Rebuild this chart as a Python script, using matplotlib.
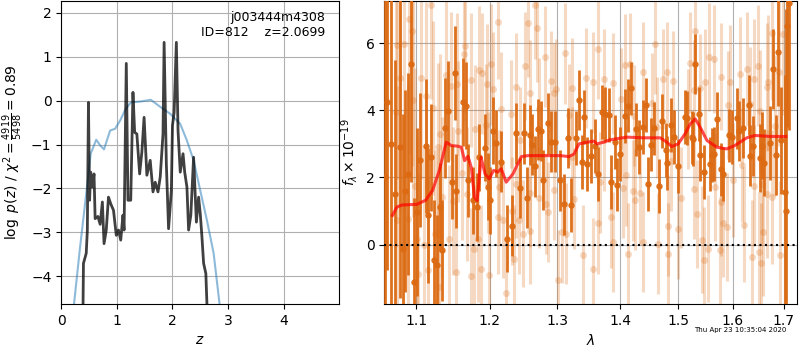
import numpy as np
import matplotlib
matplotlib.use("Agg")
import matplotlib.pyplot as plt
from matplotlib.ticker import NullLocator, NullFormatter

# p(z) curves (left panel)
z_grid = [0.39, 0.40, 0.45, 0.47, 0.49, 0.51, 0.53, 0.56, 0.59, 0.61, 0.66, 0.70,
          0.74, 0.77, 0.81, 0.85, 0.89, 0.94, 0.99, 1.03, 1.07, 1.11, 1.13, 1.17,
          1.20, 1.25, 1.29, 1.32, 1.36, 1.41, 1.45, 1.49, 1.54, 1.60, 1.65, 1.69,
          1.74, 1.78, 1.83, 1.85, 1.89, 1.93, 1.98, 2.00, 2.03, 2.07, 2.10, 2.14,
          2.19, 2.22, 2.26, 2.29, 2.33, 2.38, 2.43, 2.47, 2.50, 2.53, 2.56, 2.60,
          2.63]
logpz = [-5.0, -3.71, -3.48, -2.95, -0.04, -2.27, -1.63, -1.97, -1.67, -2.69,
         -2.64, -2.82, -2.31, -3.26, -2.95, -2.20, -2.35, -2.50, -3.07, -2.95,
         -3.18, -2.61, -2.95, 0.85, -2.27, -2.27, 0.19, -0.72, -0.76, -1.67,
         -1.17, -0.38, -1.70, -1.36, -2.08, -1.86, -2.08, -1.74, -0.76, 1.33,
         -1.44, -2.92, -2.05, -0.57, -0.27, 1.33, -0.68, -1.63, -1.21, -1.63,
         -1.97, -2.95, -2.61, -1.29, -2.77, -2.20, -2.58, -3.11, -3.71, -3.94,
         -5.0]

z_prior = [0.20, 0.34, 0.45, 0.53, 0.63, 0.70, 0.77, 0.83, 0.88, 0.97, 1.06,
           1.15, 1.25, 1.42, 1.61, 1.78, 1.96, 2.14, 2.26, 2.38, 2.50, 2.62,
           2.74, 2.88]
logp_prior = [-5.0, -3.33, -2.12, -1.21, -0.89, -1.02, -1.11, -0.87, -0.68,
              -0.64, -0.45, -0.21, -0.04, -0.02, 0.02, -0.14, -0.30, -0.53,
              -0.91, -1.36, -2.05, -2.73, -3.48, -5.0]

# spectrum (right panel), flux in 1e-19
dark_wave = [1.0600, 1.0628, 1.0680, 1.0720, 1.0791, 1.0826, 1.0859, 1.0897,
             1.0936, 1.0971, 1.1006, 1.1041, 1.1124, 1.1151, 1.1198, 1.1234,
             1.1271, 1.1316, 1.1344, 1.1381, 1.1426, 1.1468, 1.1509, 1.1532,
             1.1619, 1.1660, 1.1688, 1.1766, 1.1812, 1.1853, 1.1931, 1.1968,
             1.2000, 1.2040, 1.2088, 1.2166, 1.2246, 1.2324, 1.2372, 1.2431,
             1.2490, 1.2540, 1.2578, 1.2607, 1.2657, 1.2701, 1.2746, 1.2784,
             1.2853, 1.2901, 1.2956, 1.3043, 1.3106, 1.3158, 1.3205, 1.3284,
             1.3336, 1.3379, 1.3415, 1.3469, 1.3532, 1.3596, 1.3637, 1.3700,
             1.3754, 1.3817, 1.3858, 1.3912, 1.3953, 1.4007, 1.4086, 1.4133,
             1.4190, 1.4276, 1.4317, 1.4379, 1.4431, 1.4478, 1.4524, 1.4569,
             1.4667, 1.4714, 1.4776, 1.4810, 1.4869, 1.4926, 1.4995, 1.5117,
             1.5165, 1.5238, 1.5263, 1.5305, 1.5366, 1.5397, 1.5457, 1.5567,
             1.5611, 1.5640, 1.5713, 1.5775, 1.5823, 1.5932, 1.5995, 1.6073,
             1.6124, 1.6202, 1.6308, 1.6333, 1.6398, 1.6516, 1.6563, 1.6608,
             1.6725, 1.6790, 1.6843, 1.6888, 1.6947, 1.7014, 1.7040, 1.7070,
             1.7110]
dark_flux = [2.00, 4.24, 3.00, 1.50, 2.92, -0.12, 1.60, 2.10, 5.37, -1.11,
             0.97, 2.52, 2.94, 0.87, 2.60, -0.47, -0.61, 1.12, -0.17, 3.47,
             3.97, 1.86, 5.10, 1.60, 4.24, 4.14, 1.91, 1.32, 1.12, 2.60,
             2.88, 1.73, 1.32, 3.39, 3.02, 2.47, 0.18, 0.57, 3.31, 1.69,
             3.31, 1.40, 3.27, 2.98, 2.33, 3.43, 3.39, 1.93, 3.61, 3.07,
             3.07, 1.91, 1.20, 3.17, 1.17, 3.17, 4.31, 2.46, 3.80, 2.41,
             2.65, 2.94, 2.11, 3.94, 3.89, 3.86, 1.86, 3.05, 1.79, 2.70,
             3.84, 4.14, 4.65, 3.43, 2.90, 3.51, 4.16, 1.81, 2.98, 3.46,
             1.75, 3.69, 2.82, 2.44, 3.57, 3.21, 2.33, 3.79, 3.76, 3.19,
             3.15, 5.37, 3.89, 2.68, 2.16, 2.41, 2.66, 2.70, 3.73, 2.24,
             2.11, 3.25, 3.20, 3.76, 3.39, 3.47, 4.16, 2.65, 2.94, 2.58,
             2.95, 2.44, 3.02, 5.23, 2.67, 5.74, 3.10, 1.56, 1.00, 6.50,
             7.20]
dark_err = [6.0, 5.0, 5.5, 4.0, 4.5, 4.0, 3.0, 3.0, 3.5, 2.5,
            2.5, 2.0, 2.0, 2.0, 1.6, 1.8, 1.5, 1.3, 1.5, 1.5,
            1.5, 1.1, 1.4, 1.1, 1.3, 1.3, 1.1, 1.0, 1.0, 1.0,
            1.0, 1.0, 1.0, 1.0, 1.0, 0.9, 1.0, 0.9, 0.9, 0.9,
            0.9, 0.9, 0.9, 0.9, 0.9, 0.9, 0.9, 0.9, 0.9, 0.9,
            0.9, 0.9, 0.9, 0.9, 0.8, 0.8, 0.9, 0.8, 0.8, 0.8,
            0.8, 0.8, 0.8, 0.8, 0.8, 0.8, 0.8, 0.8, 0.8, 0.8,
            0.8, 0.8, 0.8, 0.8, 0.8, 0.8, 0.8, 0.8, 0.8, 0.8,
            0.8, 0.8, 0.8, 0.8, 0.8, 0.8, 0.8, 0.8, 0.8, 0.8,
            0.8, 0.9, 0.8, 0.8, 0.8, 0.8, 0.8, 0.8, 0.8, 0.8,
            0.8, 0.8, 0.8, 0.9, 0.9, 0.9, 0.9, 0.9, 0.9, 1.0,
            1.0, 1.0, 1.1, 1.2, 1.2, 1.6, 1.6, 3.5, 6.0, 3.0,
            3.8]

light_wave = [1.0736, 1.0749, 1.0756, 1.0791, 1.0842, 1.0894, 1.0906, 1.0941,
              1.0958, 1.0980, 1.1014, 1.1018, 1.1061, 1.1096, 1.1120, 1.1157,
              1.1198, 1.1212, 1.1243, 1.1285, 1.1289, 1.1292, 1.1308, 1.1336,
              1.1391, 1.1430, 1.1459, 1.1487, 1.1528, 1.1542, 1.1550, 1.1611,
              1.1633, 1.1656, 1.1680, 1.1729, 1.1739, 1.1770, 1.1794, 1.1839,
              1.1853, 1.1872, 1.1894, 1.1941, 1.1963, 1.1970, 1.1985, 1.2010,
              1.2040, 1.2113, 1.2115, 1.2137, 1.2162, 1.2187, 1.2235, 1.2309,
              1.2324, 1.2343, 1.2372, 1.2382, 1.2422, 1.2431, 1.2478, 1.2504,
              1.2554, 1.2578, 1.2580, 1.2588, 1.2666, 1.2691, 1.2716, 1.2725,
              1.2813, 1.2824, 1.2849, 1.2897, 1.2946, 1.2950, 1.2971, 1.3005,
              1.3074, 1.3115, 1.3126, 1.3179, 1.3221, 1.3232, 1.3264, 1.3399,
              1.3442, 1.3553, 1.3555, 1.3637, 1.3640, 1.3675, 1.3743, 1.3745,
              1.3858, 1.3885, 1.3887, 1.4017, 1.4047, 1.4086, 1.4103, 1.4126,
              1.4162, 1.4219, 1.4236, 1.4248, 1.4334, 1.4379, 1.4391, 1.4534,
              1.4593, 1.4621, 1.4650, 1.4731, 1.4805, 1.4822, 1.4825, 1.4879,
              1.4909, 1.4995, 1.5055, 1.5177, 1.5208, 1.5274, 1.5276, 1.5305,
              1.5336, 1.5384, 1.5426, 1.5457, 1.5488, 1.5535, 1.5548, 1.5652,
              1.5671, 1.5763, 1.5775, 1.5777, 1.5813, 1.5897, 1.5918, 1.5949,
              1.6006, 1.6137, 1.6171, 1.6222, 1.6269, 1.6333, 1.6366, 1.6412,
              1.6418, 1.6496, 1.6515, 1.6529, 1.6543, 1.6565, 1.6594, 1.6661,
              1.6664, 1.6692, 1.6759, 1.6761, 1.6824, 1.6908, 1.6922, 1.6986]
light_flux = [3.94, 0.72, 5.94, 4.96, 5.97, 0.75, 6.71, 6.35,
              4.31, 1.76, 0.18, -0.86, 4.96, -0.02, 4.43, -0.76,
              7.14, 4.07, 0.33, 0.33, 2.90, -1.26, 3.28, 1.41,
              5.06, 0.18, 4.73, 1.29, -0.81, 4.78, 3.37, 2.13,
              5.67, 5.92, 1.51, -0.92, 4.90, -0.12, 3.45, 0.18,
              5.21, -0.71, 5.10, 3.57, 4.78, 2.16, -0.91, 5.37,
              4.63, 6.63, 0.82, 1.71, 4.04, 0.72, -1.44, 3.89,
              1.00, -0.42, 4.70, 1.81, 0.72, 3.10, 0.33, 5.32,
              6.59, 1.53, 0.42, 4.50, 7.14, 6.44, 1.40, 4.04,
              5.59, 1.22, 0.97, 4.86, 4.51, 1.63, 4.63, -1.06,
              0.37, 5.69, 0.33, 3.87, 4.66, 2.60, 1.37, -0.32,
              4.96, 4.83, -0.71, 5.82, 0.64, 1.86, 4.93, 3.10,
              0.82, 4.80, 0.08, 4.34, 1.69, 5.36, 2.06, -0.27,
              5.39, 1.61, 3.84, 1.34, 1.53, 5.13, 0.08, 4.21,
              5.97, 3.49, 0.03, 4.93, 5.13, 0.57, -0.27, 2.50,
              4.86, 0.47, 1.40, 3.74, 5.42, 4.60, 1.66, 6.36,
              0.92, 4.66, 0.15, -0.47, 4.83, -0.12, 5.59, 5.52,
              1.71, -0.17, 5.00, 1.27, 0.64, 0.52, 4.16, 4.83,
              1.93, 5.08, 2.36, 0.60, 5.23, 4.19, -0.37, 4.93,
              1.76, 5.32, -0.22, 3.99, -0.56, 1.81, 0.37, 4.70,
              1.51, 4.83, 6.31, 1.41, 3.54, 5.13, -0.32, 6.27]
light_err = [4.0, 4.0, 4.0, 4.0, 4.0, 4.0, 4.0, 4.0,
             3.5, 3.5, 3.0, 3.0, 3.0, 3.0, 2.8, 2.8,
             2.8, 2.6, 2.5, 2.5, 2.5, 2.5, 2.4, 2.4,
             2.3, 2.2, 2.2, 2.2, 2.1, 2.1, 2.1, 2.0,
             2.0, 2.0, 2.0, 2.0, 2.0, 1.9, 1.9, 1.9,
             1.9, 1.9, 1.8, 1.8, 1.8, 1.8, 1.8, 1.8,
             1.7, 1.7, 1.7, 1.7, 1.7, 1.7, 1.7, 1.6,
             1.6, 1.6, 1.6, 1.6, 1.6, 1.6, 1.6, 1.6,
             1.6, 1.6, 1.6, 1.6, 1.6, 1.6, 1.5, 1.5,
             1.5, 1.5, 1.5, 1.5, 1.5, 1.5, 1.5, 1.5,
             1.5, 1.5, 1.5, 1.5, 1.5, 1.5, 1.5, 1.5,
             1.5, 1.5, 1.5, 1.5, 1.5, 1.5, 1.5, 1.5,
             1.5, 1.5, 1.5, 1.5, 1.5, 1.5, 1.5, 1.5,
             1.5, 1.5, 1.5, 1.5, 1.5, 1.5, 1.5, 1.5,
             1.5, 1.5, 1.5, 1.5, 1.5, 1.5, 1.5, 1.5,
             1.5, 1.5, 1.5, 1.5, 1.5, 1.5, 1.5, 1.6,
             1.6, 1.6, 1.6, 1.6, 1.6, 1.6, 1.6, 1.6,
             1.6, 1.6, 1.6, 1.6, 1.6, 1.6, 1.6, 1.7,
             1.7, 1.7, 1.7, 1.7, 1.7, 1.7, 1.7, 1.8,
             1.8, 1.8, 1.8, 1.8, 1.8, 1.8, 1.9, 1.9,
             1.9, 2.0, 2.0, 2.0, 2.1, 2.2, 2.2, 2.4]

model_wave = [1.0692, 1.0749, 1.0813, 1.1005, 1.1120, 1.1212, 1.1303, 1.1395,
              1.1464, 1.1556, 1.1601, 1.1647, 1.1693, 1.1739, 1.1784, 1.1821,
              1.1876, 1.1931, 1.1990, 1.2054, 1.2113, 1.2162, 1.2235, 1.2334,
              1.2456, 1.2554, 1.2750, 1.3047, 1.3179, 1.3258, 1.3336, 1.3469,
              1.3573, 1.3627, 1.3731, 1.3837, 1.4110, 1.4397, 1.4684, 1.4799,
              1.4886, 1.5000, 1.5122, 1.5214, 1.5305, 1.5397, 1.5519, 1.5702,
              1.5885, 1.6039, 1.6269, 1.6431, 1.6725, 1.7040]
model_flux = [0.87, 1.12, 1.18, 1.20, 1.32, 1.61, 2.21, 3.05,
              2.95, 2.93, 2.90, 2.50, 2.63, 2.30, 1.41, 1.31,
              2.60, 2.11, 1.96, 2.21, 2.16, 2.26, 1.86, 2.11,
              2.62, 2.65, 2.65, 2.65, 2.62, 2.70, 3.00, 3.05,
              3.08, 3.00, 3.05, 3.12, 3.20, 3.18, 3.18, 3.05,
              2.92, 3.00, 3.30, 3.59, 3.74, 3.49, 3.10, 2.90,
              2.85, 2.95, 3.18, 3.25, 3.22, 3.22]

wave_ticks = [1.1, 1.2, 1.3, 1.4, 1.5, 1.6, 1.7]
wave_labels = ["1.1", "1.2", "1.3", "1.4", "1.5", "1.6", "1.7"]

orange = "#dc6a12"

fig = plt.figure(figsize=(8, 3.5), dpi=100)
ax1 = fig.add_axes([0.0765, 0.131, 0.347, 0.867])
ax2 = fig.add_axes([0.4804, 0.131, 0.5155, 0.867])

ax1.plot(z_prior, logp_prior, color="#1f77b4", alpha=0.5, lw=1.5)
ax1.plot(z_grid, logpz, color="k", alpha=0.75, lw=2)
ax1.set_xlim(0, 4.99)
ax1.set_ylim(-4.64, 2.28)
ax1.set_xticks([0, 1, 2, 3, 4])
ax1.set_yticks([-4, -3, -2, -1, 0, 1, 2])
ax1.grid()
ax1.set_xlabel(r"$z$")
ax1.set_ylabel(r"$\log\ p(z)$ / $\chi^2=\frac{4919}{5498}=0.89$")
ax1.text(0.95, 0.965, "j003444m4308\nID=812    z=2.0699", ha="right", va="top",
         fontsize=9, transform=ax1.transAxes)

ax2.errorbar(light_wave, light_flux, yerr=light_err, marker="o", ms=5,
             linestyle="None", color=orange, alpha=0.25, elinewidth=2.2,
             mec="none", zorder=2)
ax2.errorbar(dark_wave, dark_flux, yerr=dark_err, marker="o", ms=4.6,
             linestyle="None", color=orange, alpha=0.95, elinewidth=2.0,
             mec="none", zorder=3)
ax2.plot(model_wave, model_flux, color="r", alpha=0.7, lw=2.2, zorder=4)
ax2.axhline(0, color="k", linestyle=":", lw=1.5, zorder=5)
ax2.set_xscale("log")
ax2.set_xlim(1.059, 1.726)
ax2.set_ylim(-1.77, 7.26)
ax2.set_xticks(wave_ticks)
ax2.set_xticklabels(wave_labels)
ax2.xaxis.set_minor_locator(NullLocator())
ax2.xaxis.set_minor_formatter(NullFormatter())
ax2.set_yticks([0, 2, 4, 6])
ax2.grid()
ax2.set_xlabel(r"$\lambda$")
ax2.set_ylabel(r"$f_\lambda\times10^{-19}$")

fig.text(0.983, 0.067, "Thu Apr 23 10:35:04 2020", ha="right", va="top",
         fontsize=5)

fig.savefig("out.png", dpi=100)
